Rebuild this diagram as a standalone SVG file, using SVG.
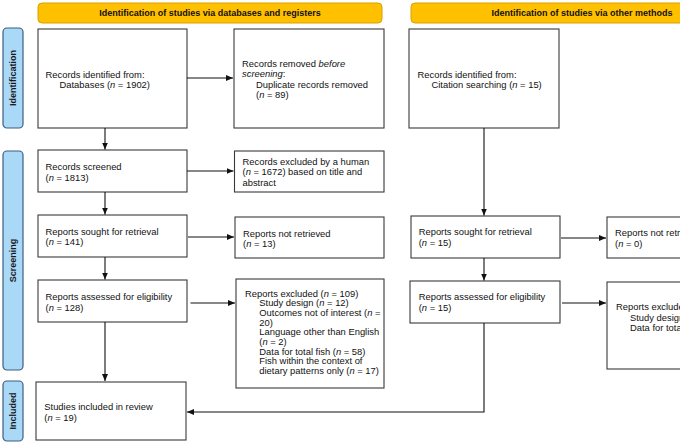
<svg xmlns="http://www.w3.org/2000/svg" width="680" height="443" viewBox="0 0 680 443">
<style>
text{font-family:"Liberation Sans",Arial,sans-serif;fill:#111;}
.t{font-size:9.4px;}
.h{font-size:9px;font-weight:bold;}
.side{font-size:9px;font-weight:bold;fill:#1a1a1a;}
.box{fill:#fff;stroke:#3a3a3a;stroke-width:1.1;}
.ban{fill:#ffc000;stroke:#d9a200;stroke-width:1;}
.lab{fill:#a9d9f7;stroke:#3d5f80;stroke-width:1.2;}
.c{fill:none;stroke:#111;stroke-width:1.1;}
</style>
<defs>
<marker id="ah" markerWidth="8" markerHeight="8" refX="7" refY="4" orient="auto" markerUnits="userSpaceOnUse">
<path d="M0,1 L7,4 L0,7 Z" fill="#111"/>
</marker>
</defs>
<rect width="680" height="443" fill="#fff"/>

<g id="banner-left">
<rect class="ban" x="38" y="3" width="344" height="20" rx="4"/>
<text class="h" x="210" y="16.3" text-anchor="middle">Identification of studies via databases and registers</text>
</g>
<g id="banner-right">
<rect class="ban" x="411" y="3" width="344" height="20" rx="4"/>
<text class="h" x="582" y="16.3" text-anchor="middle">Identification of studies via other methods</text>
</g>

<g id="label-identification">
<rect class="lab" x="3" y="28" width="20" height="100" rx="4"/>
<text class="side" transform="translate(16.3,78) rotate(-90)" text-anchor="middle">Identification</text>
</g>
<g id="label-screening">
<rect class="lab" x="3" y="151" width="20" height="219" rx="4"/>
<text class="side" transform="translate(16.3,260.5) rotate(-90)" text-anchor="middle">Screening</text>
</g>
<g id="label-included">
<rect class="lab" x="3" y="381" width="20" height="60" rx="4"/>
<text class="side" transform="translate(16.3,411) rotate(-90)" text-anchor="middle">Included</text>
</g>

<g id="records-identified">
<rect class="box" x="38" y="29" width="149" height="99"/>
<text class="t" x="45.5" y="77.5">Records identified from:</text>
<text class="t" x="59.5" y="87.8">Databases (<tspan font-style="italic">n</tspan> = 1902)</text>
</g>
<g id="records-removed">
<rect class="box" x="234" y="29" width="150" height="99"/>
<text class="t" x="242" y="66.7">Records removed <tspan font-style="italic">before</tspan></text>
<text class="t" x="242" y="77.2"><tspan font-style="italic">screening</tspan>:</text>
<text class="t" x="256" y="87.6">Duplicate records removed</text>
<text class="t" x="256" y="97.9">(<tspan font-style="italic">n</tspan> = 89)</text>
</g>
<g id="records-citation">
<rect class="box" x="409" y="29" width="150" height="99"/>
<text class="t" x="417.5" y="77.5">Records identified from:</text>
<text class="t" x="431.5" y="87.8">Citation searching (<tspan font-style="italic">n</tspan> = 15)</text>
</g>

<g id="records-screened">
<rect class="box" x="38" y="150" width="149" height="42"/>
<text class="t" x="45.5" y="170">Records screened</text>
<text class="t" x="45.5" y="180.5">(<tspan font-style="italic">n</tspan> = 1813)</text>
</g>
<g id="records-excluded">
<rect class="box" x="234.5" y="151" width="149.5" height="41"/>
<text class="t" x="242.5" y="164.7">Records excluded by a human</text>
<text class="t" x="242.5" y="175.2">(<tspan font-style="italic">n</tspan> = 1672) based on title and</text>
<text class="t" x="242.5" y="185.7">abstract</text>
</g>

<g id="reports-sought">
<rect class="box" x="38" y="215" width="149" height="42"/>
<text class="t" x="45.5" y="234.7">Reports sought for retrieval</text>
<text class="t" x="45.5" y="245.3">(<tspan font-style="italic">n</tspan> = 141)</text>
</g>
<g id="reports-not-retrieved">
<rect class="box" x="235" y="217" width="149" height="41"/>
<text class="t" x="243" y="236.7">Reports not retrieved</text>
<text class="t" x="243" y="247.3">(<tspan font-style="italic">n</tspan> = 13)</text>
</g>
<g id="reports-sought-other">
<rect class="box" x="411" y="216" width="149" height="42"/>
<text class="t" x="418.7" y="235">Reports sought for retrieval</text>
<text class="t" x="418.7" y="245.5">(<tspan font-style="italic">n</tspan> = 15)</text>
</g>
<g id="reports-not-retrieved-other">
<rect class="box" x="607" y="217" width="100" height="41"/>
<text class="t" x="615" y="236">Reports not retrieved</text>
<text class="t" x="615" y="246.5">(<tspan font-style="italic">n</tspan> = 0)</text>
</g>

<g id="reports-assessed">
<rect class="box" x="38" y="280" width="149" height="42"/>
<text class="t" x="45.5" y="300">Reports assessed for eligibility</text>
<text class="t" x="45.5" y="310.5">(<tspan font-style="italic">n</tspan> = 128)</text>
</g>
<g id="reports-excluded">
<rect class="box" x="236" y="279" width="148" height="109"/>
<text class="t" x="245" y="296.7">Reports excluded (<tspan font-style="italic">n</tspan> = 109)</text>
<text class="t" x="259.3" y="306.3">Study design (<tspan font-style="italic">n</tspan> = 12)</text>
<text class="t" x="259.3" y="316">Outcomes not of interest (<tspan font-style="italic">n</tspan> =</text>
<text class="t" x="259.3" y="325.6">20)</text>
<text class="t" x="259.3" y="335.2">Language other than English</text>
<text class="t" x="259.3" y="344.8">(<tspan font-style="italic">n</tspan> = 2)</text>
<text class="t" x="259.3" y="354.5">Data for total fish (<tspan font-style="italic">n</tspan> = 58)</text>
<text class="t" x="259.3" y="364.1">Fish within the context of</text>
<text class="t" x="259.3" y="373.7">dietary patterns only (<tspan font-style="italic">n</tspan> = 17)</text>
</g>
<g id="reports-assessed-other">
<rect class="box" x="410" y="281" width="150" height="42"/>
<text class="t" x="418.7" y="300">Reports assessed for eligibility</text>
<text class="t" x="418.7" y="310.5">(<tspan font-style="italic">n</tspan> = 15)</text>
</g>
<g id="reports-excluded-other">
<rect class="box" x="607" y="282" width="100" height="87"/>
<text class="t" x="616" y="310">Reports excluded (<tspan font-style="italic">n</tspan> = 0)</text>
<text class="t" x="630" y="320.6">Study design (<tspan font-style="italic">n</tspan> = 0)</text>
<text class="t" x="630" y="330.6">Data for total fish (<tspan font-style="italic">n</tspan> = 0)</text>
</g>

<g id="studies-included">
<rect class="box" x="36" y="382" width="150" height="58"/>
<text class="t" x="44.3" y="410">Studies included in review</text>
<text class="t" x="44.3" y="420.5">(<tspan font-style="italic">n</tspan> = 19)</text>
</g>

<g id="connectors">
<line class="c" x1="187" y1="78" x2="233" y2="78" marker-end="url(#ah)"/>
<line class="c" x1="105" y1="128" x2="105" y2="149.5" marker-end="url(#ah)"/>
<line class="c" x1="187" y1="171" x2="233.5" y2="171" marker-end="url(#ah)"/>
<line class="c" x1="105" y1="192" x2="105" y2="214.5" marker-end="url(#ah)"/>
<line class="c" x1="188" y1="237" x2="234" y2="237" marker-end="url(#ah)"/>
<line class="c" x1="105" y1="257" x2="105" y2="279.5" marker-end="url(#ah)"/>
<line class="c" x1="190.5" y1="303" x2="235" y2="303" marker-end="url(#ah)"/>
<line class="c" x1="105" y1="322" x2="105" y2="381" marker-end="url(#ah)"/>
<line class="c" x1="484" y1="128" x2="484" y2="215.5" marker-end="url(#ah)"/>
<line class="c" x1="561" y1="238" x2="606" y2="238" marker-end="url(#ah)"/>
<line class="c" x1="484" y1="258" x2="484" y2="280.5" marker-end="url(#ah)"/>
<line class="c" x1="562" y1="303" x2="606" y2="303" marker-end="url(#ah)"/>
<polyline class="c" points="484,323 484,412 187,412" marker-end="url(#ah)"/>
</g>
</svg>
